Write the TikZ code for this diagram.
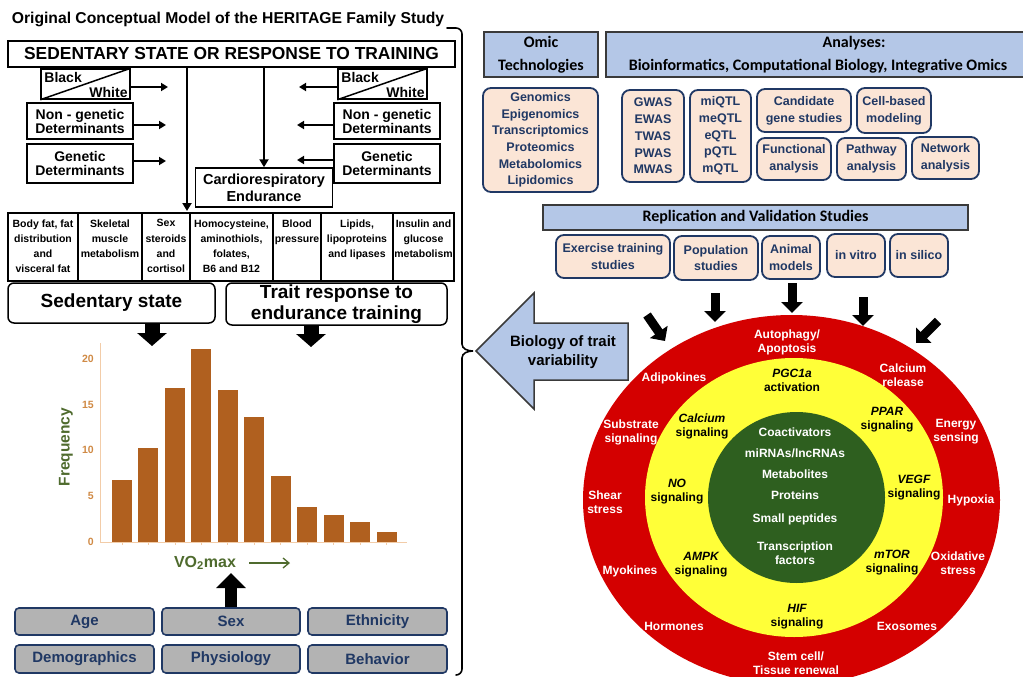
\documentclass[tikz,border=0pt]{standalone}
\usepackage{fontspec}
\setmainfont{Liberation Sans}
\newfontfamily\calfont{Carlito}
\usetikzlibrary{arrows.meta,shapes.geometric}
\definecolor{hblue}{HTML}{B4C7E7}
\definecolor{peach}{HTML}{FBE5D6}
\definecolor{navy}{HTML}{203864}
\definecolor{gfill}{HTML}{B3B3B3}
\definecolor{barc}{HTML}{B0601F}
\definecolor{axc}{HTML}{F2CCA8}
\definecolor{tickc}{HTML}{D08A45}
\definecolor{grn}{HTML}{4F6B2E}
\definecolor{ringred}{HTML}{D40000}
\definecolor{ringyel}{HTML}{FFFF38}
\definecolor{coregreen}{HTML}{2E5F1F}
\definecolor{hborder}{HTML}{3A3A3A}
\newcommand\myfs[2]{\fontsize{#1}{#2}\selectfont\bfseries}
\begin{document}
\begin{tikzpicture}[x=1pt,y=-1pt,
  bbox/.style={draw, line width=1.5pt, inner sep=0pt, align=center, font=\myfs{14}{14}},
  thinarr/.style={line width=1.8pt, -{Triangle[length=7pt,width=8pt]}},
  bigarr/.style={line width=15pt, -{Triangle[length=13pt,width=29pt]}},
  smallarr/.style={line width=9pt, -{Triangle[length=11pt,width=21pt]}},
  cell/.style={draw, line width=1.5pt, inner sep=0pt, minimum height=68pt},
  celltext/.style={inner sep=0pt, align=center, font=\myfs{10.5}{15.3}, anchor=north},
  rbox/.style={draw, line width=1.5pt, rounded corners=6pt, inner sep=0pt, align=center, font=\myfs{19}{21}},
  gbox/.style={draw=navy, line width=1.6pt, fill=gfill, rounded corners=4pt, inner sep=0pt, text=navy, font=\myfs{15}{17}},
  hbox/.style={draw=hborder, line width=1.5pt, fill=hblue, inner sep=0pt, align=center, font=\calfont\myfs{16}{23}},
  pbox/.style={draw=navy, line width=1.8pt, fill=peach, rounded corners=8pt, inner sep=0pt, align=center, text=navy, font=\myfs{12.5}{16.7}},
  redlab/.style={text=white, align=center, font=\myfs{12}{14}, inner sep=0pt},
  yellab/.style={text=black, align=center, font=\myfs{12}{14}, inner sep=0pt},
]
\useasboundingbox (0,0) rectangle (1023,677);
\fill[white] (0,0) rectangle (1023,677);

% ---------------- left panel ----------------
\node[font=\myfs{15.7}{17}, inner sep=0pt] (title) at (228,19) {Original Conceptual Model of the HERITAGE Family Study};
\node[bbox, font=\myfs{17.4}{18}, minimum width=447pt, minimum height=26pt] (sed) at (231.5,54) {SEDENTARY STATE OR RESPONSE TO TRAINING};

\node[bbox, minimum width=89pt, minimum height=30pt] (bwL) at (85.5,84) {};
\draw[line width=1.5pt] (bwL.south west) -- (bwL.north east);
\node[anchor=north west, inner sep=0pt, font=\myfs{14}{14}] (bkL) at ([xshift=4pt,yshift=-4pt]bwL.north west) {Black};
\node[anchor=south east, inner sep=0pt, font=\myfs{14}{14}] (whL) at ([xshift=-3pt,yshift=2pt]bwL.south east) {White};
\node[bbox, minimum width=106pt, minimum height=36pt] (ngL) at (80,121) {Non - genetic\\Determinants};
\node[bbox, minimum width=106pt, minimum height=39pt] (gL) at (80,163.5) {Genetic\\Determinants};

\node[bbox, minimum width=89pt, minimum height=30pt] (bwR) at (382.5,84) {};
\draw[line width=1.5pt] (bwR.south west) -- (bwR.north east);
\node[anchor=north west, inner sep=0pt, font=\myfs{14}{14}] (bkR) at ([xshift=4pt,yshift=-4pt]bwR.north west) {Black};
\node[anchor=south east, inner sep=0pt, font=\myfs{14}{14}] (whR) at ([xshift=-3pt,yshift=2pt]bwR.south east) {White};
\node[bbox, minimum width=106pt, minimum height=36pt] (ngR) at (387,121) {Non - genetic\\Determinants};
\node[bbox, minimum width=106pt, minimum height=39pt] (gR) at (387,163.5) {Genetic\\Determinants};

\coordinate (tL1) at (168,87);
\coordinate (tL2) at (166,125);
\coordinate (tL3) at (166,161);
\coordinate (tR1) at (299,87);
\coordinate (tR2) at (297,125);
\coordinate (tR3) at (297,160);
\draw[thinarr] (bwL.east |- tL1) -- (tL1);
\draw[thinarr] (ngL.east |- tL2) -- (tL2);
\draw[thinarr] (gL.east |- tL3) -- (tL3);
\draw[thinarr] (bwR.west |- tR1) -- (tR1);
\draw[thinarr] (ngR.west |- tR2) -- (tR2);
\draw[thinarr] (gR.west |- tR3) -- (tR3);

\node[bbox, minimum width=137pt, minimum height=39pt, font=\myfs{14.5}{17}] (cardio) at (264,187.5) {Cardiorespiratory\\Endurance};
\coordinate (v1) at (187,211);
\draw[line width=2pt, -{Triangle[length=8pt,width=9pt]}] (sed.south -| v1) -- (v1);
\draw[line width=2pt, -{Triangle[length=8pt,width=9pt]}] (sed.south -| cardio.north) -- (cardio.north);

% table
\node[cell, minimum width=70pt] (c1) at (43,247) {};
\node[cell, minimum width=64pt] (c2) at (110,247) {};
\node[cell, minimum width=48pt] (c3) at (166,247) {};
\node[cell, minimum width=83pt] (c4) at (231.5,247) {};
\node[cell, minimum width=48pt] (c5) at (297,247) {};
\node[cell, minimum width=72pt] (c6) at (357,247) {};
\node[cell, minimum width=61pt] (c7) at (423.5,247) {};
\node[celltext] (t1) at ([yshift=-7pt]c1.north) {Body fat, fat\\distribution\\and\\visceral fat};
\node[celltext] (t2) at ([yshift=-7pt]c2.north) {Skeletal\\muscle\\metabolism};
\node[celltext] (t3) at ([yshift=-7pt]c3.north) {Sex\\steroids\\and\\cortisol};
\node[celltext] (t4) at ([yshift=-7pt]c4.north) {Homocysteine,\\aminothiols,\\folates,\\B6 and B12};
\node[celltext] (t5) at ([yshift=-7pt]c5.north) {Blood\\pressure};
\node[celltext] (t6) at ([yshift=-7pt]c6.north) {Lipids,\\lipoproteins\\and lipases};
\node[celltext] (t7) at ([yshift=-7pt]c7.north) {Insulin and\\glucose\\metabolism};

\node[rbox, minimum width=207pt, minimum height=40pt] (sedst) at (111.5,303) {Sedentary state};
\node[rbox, minimum width=221pt, minimum height=42pt] (trait) at (336.5,304) {Trait response to\\endurance training};
\coordinate (d1) at (152,346);
\coordinate (d2) at (311,347);
\draw[bigarr] (sedst.south -| d1) -- (d1);
\draw[bigarr] (trait.south -| d2) -- (d2);

% histogram
\draw[axc, line width=1pt] (100,343) -- (100,542) -- (407,542);
\foreach \v [count=\i] in {6.8,10.2,16.8,21,16.6,13.6,7.2,3.8,2.9,2.2,1.1} {
  \fill[barc] ({112+26.45*(\i-1)},542) rectangle ({132+26.45*(\i-1)},{542-9.17*\v});
  \draw[axc, line width=0.8pt] ({122+26.45*(\i-1)},542) -- ++(0,3);
}
\foreach \t in {0,5,10,15,20}
  \node[anchor=east, text=tickc, font=\myfs{10.5}{11}, inner sep=0pt] at (94,{542-9.17*\t}) {\t};
\node[rotate=90, text=grn, font=\myfs{15.5}{16}, inner sep=0pt] (freq) at (66,447) {Frequency};
\node[text=grn, font=\myfs{16}{18}, inner sep=0pt] (vo) at (205,563) {VO\textsubscript{2}max};
\coordinate (voa) at (249,563);
\coordinate (vob) at (290,563);
\draw[grn, line width=1.3pt, -{Straight Barb[length=6pt,width=10pt]}] (voa) -- (vob);

% grey boxes
\node[gbox, minimum width=139pt, minimum height=27pt] (age) at (84.5,621.5) {Age};
\node[gbox, minimum width=138pt, minimum height=27pt] (sex) at (231,621.5) {Sex};
\node[gbox, minimum width=139pt, minimum height=27pt] (eth) at (377.5,621.5) {Ethnicity};
\node[gbox, minimum width=139pt, minimum height=28pt] (demo) at (84.5,659) {Demographics};
\node[gbox, minimum width=138pt, minimum height=28pt] (phys) at (231,659) {Physiology};
\node[gbox, minimum width=139pt, minimum height=28pt] (beh) at (377.5,659) {Behavior};
\coordinate (up) at (231,573);
\draw[line width=12pt, -{Triangle[length=15pt,width=29pt]}] (sex.north) -- (up);

% brace
\draw[line width=1.6pt, line cap=round] (447,28) -- (456,28) to[out=0,in=90] (462,34) -- (462,344)
  to[out=-90,in=180] (473,351) to[out=180,in=90] (462,358) -- (462,669) to[out=-90,in=0] (456,675);

% ---------------- right panel ----------------
\draw[draw=hborder, line width=1.5pt, fill=hblue, line join=miter] (476,351) -- (534,293) -- (534,323) -- (628,323) -- (628,380) -- (534,380) -- (534,409) -- cycle;
\node[font=\myfs{15}{19}, align=center, inner sep=0pt] (bio) at (563,352) {Biology of trait\\variability};

\node[hbox, minimum width=114pt, minimum height=45pt] (omic) at (541,54.5) {Omic\\Technologies};
\node[hbox, minimum width=424pt, minimum height=45pt] (ana) at (818,54.5) {\hspace*{72pt}Analyses:\\Bioinformatics, Computational Biology, Integrative Omics};

\node[pbox, minimum width=115pt, minimum height=104pt] (gen) at (540.5,140) {Genomics\\Epigenomics\\Transcriptomics\\Proteomics\\Metabolomics\\Lipidomics};
\node[pbox, minimum width=62pt, minimum height=92pt] (gwas) at (653,136) {GWAS\\EWAS\\TWAS\\PWAS\\MWAS};
\node[pbox, minimum width=61pt, minimum height=92pt] (qtl) at (720.5,136) {miQTL\\meQTL\\eQTL\\pQTL\\mQTL};
\node[pbox, minimum width=94pt, minimum height=43pt] (cand) at (804,110.5) {Candidate\\gene studies};
\node[pbox, minimum width=74pt, minimum height=45pt] (cell) at (894,110.5) {Cell-based\\modeling};
\node[pbox, minimum width=74pt, minimum height=42pt] (func) at (794,159) {Functional\\analysis};
\node[pbox, minimum width=69pt, minimum height=42pt] (path) at (871.5,159) {Pathway\\analysis};
\node[pbox, minimum width=67pt, minimum height=42pt] (net) at (945.5,158) {Network\\analysis};

\node[hbox, minimum width=425pt, minimum height=25pt] (repl) at (755.5,217.5) {Replication and Validation Studies};
\node[pbox, minimum width=114pt, minimum height=43pt] (exer) at (613,256.5) {Exercise training\\studies};
\node[pbox, minimum width=84pt, minimum height=44pt] (pop) at (716,258) {Population\\studies};
\node[pbox, minimum width=58pt, minimum height=43pt] (anim) at (791,257.5) {Animal\\models};
\node[pbox, minimum width=58pt, minimum height=43pt] (vitro) at (856,255.5) {in vitro};
\node[pbox, minimum width=58pt, minimum height=43pt] (silico) at (919,255.5) {in silico};

% rings
\node[ellipse, fill=ringred, minimum width=417pt, minimum height=370pt, inner sep=0pt] (outer) at (791.5,500) {};
\node[ellipse, fill=ringyel, minimum width=298pt, minimum height=279pt, inner sep=0pt] (mid) at (794,497.5) {};
\node[ellipse, fill=coregreen, minimum width=177pt, minimum height=171pt, inner sep=0pt] (core) at (796.5,497.5) {};

% arrows onto the rings
\coordinate (a1s) at (647,315); \coordinate (a1e) at (665,341);
\coordinate (a2s) at (715,293); \coordinate (a2e) at (715,322);
\coordinate (a3s) at (792,283); \coordinate (a3e) at (792,313);
\coordinate (a4s) at (863,297); \coordinate (a4e) at (863,326);
\coordinate (a5s) at (938,321); \coordinate (a5e) at (916,343);
\draw[smallarr] (a1s) -- (a1e);
\draw[smallarr] (a2s) -- (a2e);
\draw[smallarr] (a3s) -- (a3e);
\draw[smallarr] (a4s) -- (a4e);
\draw[smallarr] (a5s) -- (a5e);

% red ring labels
\node[redlab] (r1) at (787,342) {Autophagy/\\Apoptosis};
\node[redlab] (r2) at (903,375) {Calcium\\release};
\node[redlab] (r3) at (674,378) {Adipokines};
\node[redlab] (r4) at (631,432) {Substrate\\signaling};
\node[redlab] (r5) at (956,432) {Energy\\sensing};
\node[redlab] (r6) at (605,502) {Shear\\stress};
\node[redlab] (r7) at (971,500) {Hypoxia};
\node[redlab] (r8) at (630,571) {Myokines};
\node[redlab] (r9) at (958,563) {Oxidative\\stress};
\node[redlab] (r10) at (674,626) {Hormones};
\node[redlab] (r11) at (907,626) {Exosomes};
\node[redlab] (r12) at (796,663) {Stem cell/\\Tissue renewal};

% yellow ring labels
\node[yellab] (y1) at (792,380) {{\itshape PGC1a}\\activation};
\node[yellab] (y2) at (702,426) {{\itshape Calcium}\\signaling};
\node[yellab] (y3) at (887,420) {{\itshape PPAR}\\signaling};
\node[yellab] (y4) at (677,492) {{\itshape NO}\\signaling};
\node[yellab] (y5) at (914,488) {{\itshape VEGF}\\signaling};
\node[yellab] (y6) at (701,565) {{\itshape AMPK}\\signaling};
\node[yellab] (y7) at (892,563) {{\itshape mTOR}\\signaling};
\node[yellab] (y8) at (797,617) {{\itshape HIF}\\signaling};

% core labels
\node[text=white, align=center, font=\myfs{12}{21}, inner sep=0pt] (corelab) at (795,496) {Coactivators\\miRNAs/lncRNAs\\Metabolites\\Proteins\\[2pt]Small peptides\\[7pt]Transcription\\[-7pt]factors};
\end{tikzpicture}
\end{document}
